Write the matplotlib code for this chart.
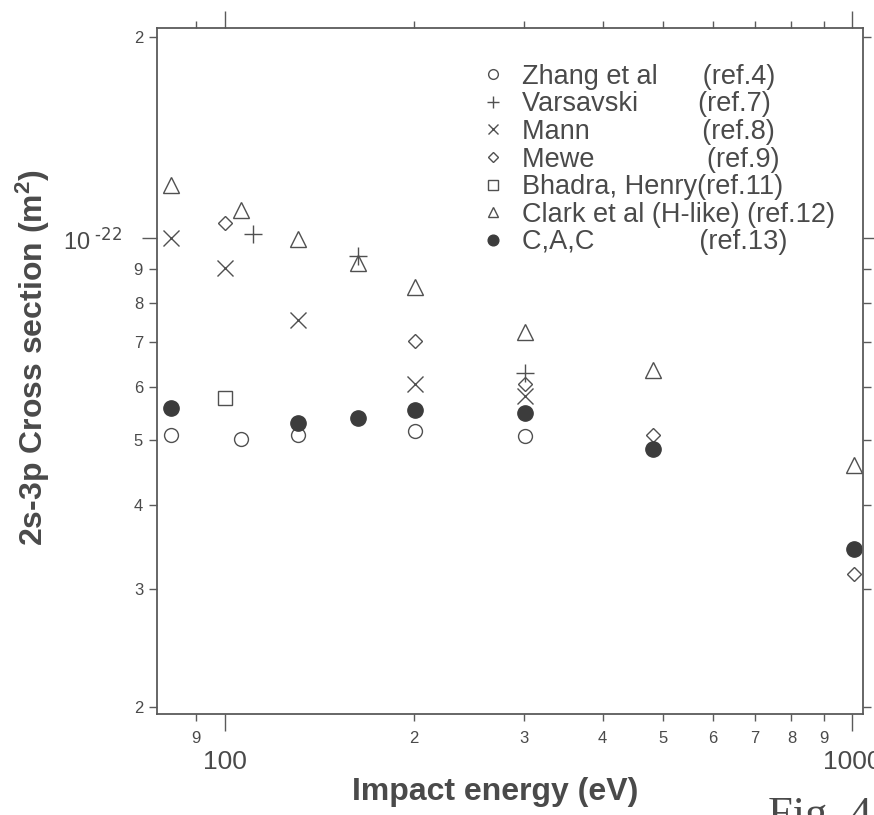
import numpy as np
import matplotlib
matplotlib.use("Agg")
import matplotlib.pyplot as plt
from matplotlib.ticker import FixedLocator, FuncFormatter

# impact energies (eV) and 2s-3p cross sections (m^2) per source
zhang_e = [82, 106, 131, 201, 301]
zhang_s = [5.09e-23, 5.03e-23, 5.10e-23, 5.17e-23, 5.07e-23]

vars_e = [111, 163, 301]
vars_s = [10.17e-23, 9.43e-23, 6.31e-23]

mann_e = [82, 100, 131, 201, 301]
mann_s = [10.0e-23, 9.02e-23, 7.55e-23, 6.06e-23, 5.83e-23]

mewe_e = [100, 201, 301, 482, 1005]
mewe_s = [10.53e-23, 7.02e-23, 6.06e-23, 5.10e-23, 3.16e-23]

bhadra_e = [100]
bhadra_s = [5.79e-23]

clark_e = [82, 106, 131, 163, 201, 301, 482, 1005]
clark_s = [12.03e-23, 11.01e-23, 9.97e-23, 9.18e-23, 8.45e-23, 7.24e-23, 6.36e-23, 4.59e-23]

cac_e = [82, 131, 163, 201, 301, 482, 1005]
cac_s = [5.58e-23, 5.30e-23, 5.39e-23, 5.54e-23, 5.50e-23, 4.86e-23, 3.44e-23]

labels = [
    "Zhang et al      (ref.4)",
    "Varsavski        (ref.7)",
    "Mann               (ref.8)",
    "Mewe               (ref.9)",
    "Bhadra, Henry(ref.11)",
    "Clark et al (H-like) (ref.12)",
    "C,A,C              (ref.13)",
]

x_minor = [90, 200, 300, 400, 500, 600, 700, 800, 900]
y_minor = [2e-23, 3e-23, 4e-23, 5e-23, 6e-23, 7e-23, 8e-23, 9e-23, 2e-22]

ink = "#4a4a4a"
plt.rcParams["font.family"] = ["Liberation Sans", "DejaVu Sans"]
plt.rcParams["mathtext.default"] = "regular"
plt.rcParams["text.color"] = ink
plt.rcParams["axes.edgecolor"] = "#5a5a5a"
plt.rcParams["xtick.color"] = "#5a5a5a"
plt.rcParams["ytick.color"] = "#5a5a5a"
plt.rcParams["xtick.labelcolor"] = ink
plt.rcParams["ytick.labelcolor"] = ink

fig = plt.figure(figsize=(8.74, 8.15), dpi=100)
ax = fig.add_axes([157 / 874, 1 - 714 / 815, 706 / 874, 686 / 815])

mk = dict(linestyle="none", color="#505050", markeredgewidth=1.0)
ax.plot(zhang_e, zhang_s, marker="o", markersize=10, markerfacecolor="none", label=labels[0], **mk)
ax.plot(vars_e, vars_s, marker="+", markersize=13, label=labels[1], **mk)
ax.plot(mann_e, mann_s, marker="x", markersize=11, label=labels[2], **mk)
ax.plot(mewe_e, mewe_s, marker="D", markersize=7, markerfacecolor="none", label=labels[3], **mk)
ax.plot(bhadra_e, bhadra_s, marker="s", markersize=10, markerfacecolor="none", label=labels[4], **mk)
ax.plot(clark_e, clark_s, marker="^", markersize=11, markerfacecolor="none", label=labels[5], **mk)
ax.plot(cac_e, cac_s, marker="o", markersize=11, color="#3c3c3c", markeredgecolor="#3c3c3c",
        linestyle="none", label=labels[6])

ax.set_xscale("log")
ax.set_yscale("log")
ax.set_xlim(78, 1040)
ax.set_ylim(1.953e-23, 2.06e-22)

ax.xaxis.set_major_locator(FixedLocator([100, 1000]))
ax.xaxis.set_minor_locator(FixedLocator(x_minor))
ax.xaxis.set_major_formatter(FuncFormatter(lambda v, p: "%d" % round(v)))
ax.xaxis.set_minor_formatter(FuncFormatter(lambda v, p: "%d" % round(v / 10 ** np.floor(np.log10(v)))))

ax.yaxis.set_major_locator(FixedLocator([1e-22]))
ax.yaxis.set_minor_locator(FixedLocator(y_minor))
ax.yaxis.set_major_formatter(FuncFormatter(lambda v, p: r"$10^{\text{ -22}}$"))
ax.yaxis.set_minor_formatter(FuncFormatter(lambda v, p: "%d" % round(v / 10 ** np.floor(np.log10(v)))))

ax.tick_params(which="both", direction="out", top=True, right=True, width=1.0)
ax.tick_params(axis="x", which="major", length=12, labelsize=19, pad=14)
ax.tick_params(axis="x", which="minor", length=5, labelsize=12, pad=7)
ax.tick_params(axis="y", which="major", length=11, labelsize=17, pad=14)
ax.tick_params(axis="y", which="minor", length=6, labelsize=12, pad=4)
for s in ax.spines.values():
    s.set_linewidth(1.3)

ax.set_xlabel("Impact energy (eV)", fontsize=23, fontweight="bold", color=ink)
ax.xaxis.set_label_coords(0.479, -0.092)
ax.set_ylabel("2s-3p Cross section (m$^{2}$)", fontsize=23, fontweight="bold", color=ink)
ax.yaxis.set_label_coords(-0.149, 0.52)

leg = ax.legend(loc="upper left", bbox_to_anchor=(0.46, 0.948), frameon=False, fontsize=19.5,
                markerscale=0.7, handlelength=0.8, handletextpad=0.7, labelspacing=0.06,
                borderpad=0, borderaxespad=0)
for t in leg.get_texts():
    t.set_color(ink)

fig.text(768 / 874, 1 - 796 / 815, "Fig. 4", fontsize=32, family=["Liberation Serif", "DejaVu Serif"],
         color=ink, va="top", ha="left")

fig.savefig("out.png", dpi=100)
